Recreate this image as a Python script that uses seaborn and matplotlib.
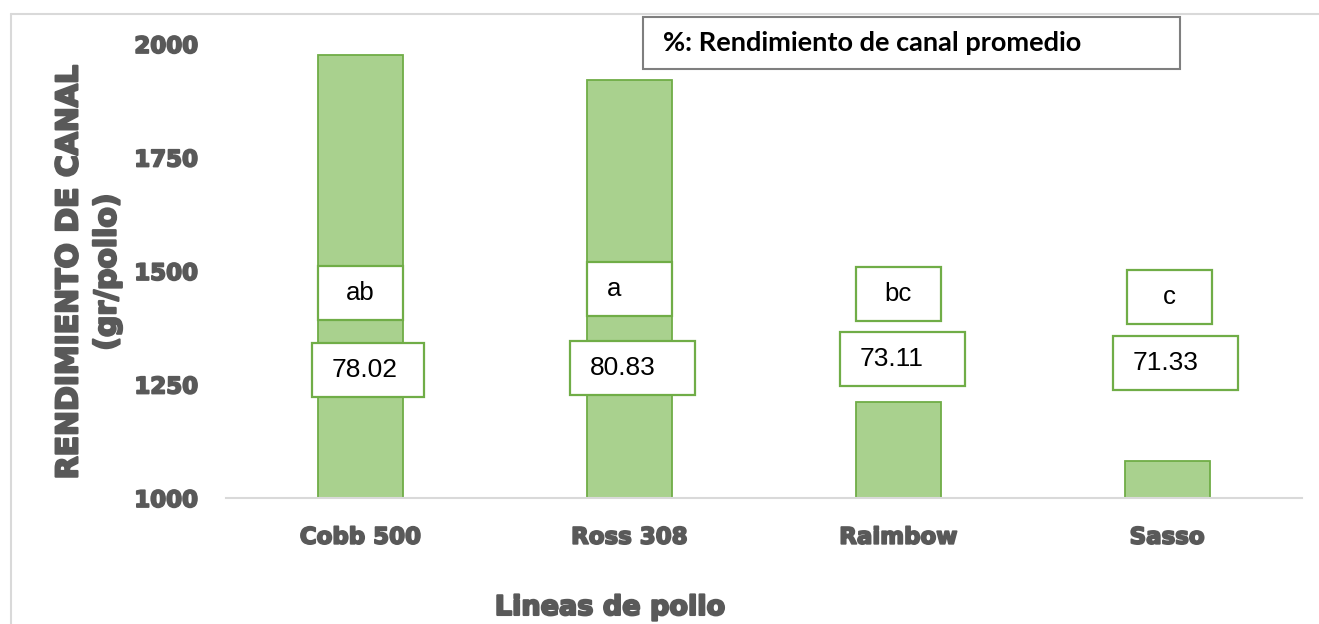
import matplotlib
matplotlib.use("Agg")
import matplotlib.pyplot as plt
import matplotlib.patheffects as pe
from matplotlib.patches import Rectangle
from matplotlib.lines import Line2D
import seaborn as sns
import pandas as pd

# datos del grafico
lineas = ["Cobb 500", "Ross 308", "Raimbow", "Sasso"]
canal_gr = [1976, 1920, 1212, 1081]
rend_pct = ["78.02", "80.83", "73.11", "71.33"]
letras = ["ab", "a", "bc", "c"]
y_ticks = [1000, 1250, 1500, 1750, 2000]

# posiciones de las cajas de texto (en unidades del eje)
letra_y = [1451, 1460, 1450, 1443]
letra_dx = [0.0, 0.0, 0.0, 0.01]
letra_ha = ["center", "left", "center", "center"]
pct_y = [1283, 1287, 1306, 1297]
pct_w = [0.42, 0.465, 0.465, 0.465]
pct_dx = [0.028, 0.011, 0.015, 0.030]

VERDE = "#70AD47"
RELLENO = "#A9D18E"
GRIS = "#595959"
W = 1319
H = 624

df = pd.DataFrame({"linea": lineas, "canal": canal_gr})

sns.set_style("white")
plt.rcParams["font.family"] = ["DejaVu Sans"]

# trazo extra para imitar la fuente gruesa del original
grueso = [pe.withStroke(linewidth=1.3, foreground=GRIS)]

fig = plt.figure(figsize=(W / 100, H / 100), dpi=100)
ax = fig.add_axes([226 / W, 1 - 498 / H, (1301.5 - 226) / W, (498 - 44) / H])

sns.barplot(data=df, x="linea", y="canal", color=RELLENO, edgecolor=VERDE,
            linewidth=1.3, width=0.316, saturation=1, ax=ax)

ax.set_ylim(1000, 2000)
ax.set_xlim(-0.5, 3.5)
ax.set_yticks(y_ticks)
ax.set_xlabel("")
ax.set_ylabel("")
for s in ["top", "right", "left"]:
    ax.spines[s].set_visible(False)
ax.spines["bottom"].set_color("#D9D9D9")
ax.spines["bottom"].set_linewidth(1.5)
ax.tick_params(axis="both", length=0)
ax.tick_params(axis="y", pad=20)
ax.tick_params(axis="x", pad=20)
for lab in ax.get_xticklabels() + ax.get_yticklabels():
    lab.set_fontsize(16.5)
    lab.set_fontweight("bold")
    lab.set_color(GRIS)
    lab.set_path_effects(grueso)

# cajas con letras y porcentajes
lh = 119
bw = 0.316
pad = 20 / 269
for i in range(len(lineas)):
    cx = i + letra_dx[i]
    ax.add_patch(Rectangle((cx - bw / 2, letra_y[i] - lh / 2), bw, lh,
                           facecolor="white", edgecolor=VERDE, lw=1.6, zorder=5))
    tx = cx if letra_ha[i] == "center" else cx - bw / 2 + pad
    ax.text(tx, letra_y[i], letras[i], ha=letra_ha[i], va="center",
            fontsize=18.5, family="Liberation Sans", color="black", zorder=6)

    px = i + pct_dx[i]
    ax.add_patch(Rectangle((px - pct_w[i] / 2, pct_y[i] - lh / 2), pct_w[i], lh,
                           facecolor="white", edgecolor=VERDE, lw=1.6, zorder=5))
    ax.text(px - pct_w[i] / 2 + pad, pct_y[i], rend_pct[i], ha="left", va="center",
            fontsize=19, family="Liberation Sans", color="black", zorder=6)

# titulos de ejes
fig.text(88 / W, 1 - 272 / H, "RENDIMIENTO DE CANAL\n(gr/pollo)", rotation=90,
         ha="center", va="center", multialignment="center", linespacing=1.4,
         fontsize=21.5, fontweight="bold", color=GRIS,
         path_effects=[pe.withStroke(linewidth=1.6, foreground=GRIS)])
fig.text(610 / W, 1 - 608 / H, "Lineas de pollo", ha="center", va="center",
         fontsize=19.5, fontweight="bold", color=GRIS,
         path_effects=[pe.withStroke(linewidth=1.5, foreground=GRIS)])

# leyenda de porcentaje
fig.add_artist(Rectangle((643 / W, 1 - 69 / H), (1180 - 643) / W, 52 / H,
                         transform=fig.transFigure, facecolor="white",
                         edgecolor="#7F7F7F", lw=1.5))
fig.text(663 / W, 1 - 43 / H, "%: Rendimiento de canal promedio", ha="left", va="center",
         fontsize=19.5, fontweight="bold", family="Lato", color="black")

# borde exterior
fig.add_artist(Line2D([11 / W, 1], [1 - 14 / H, 1 - 14 / H], transform=fig.transFigure,
                      color="#D9D9D9", lw=1.5))
fig.add_artist(Line2D([11 / W, 11 / W], [0, 1 - 14 / H], transform=fig.transFigure,
                      color="#D9D9D9", lw=1.5))

fig.savefig("out.png", dpi=100)
